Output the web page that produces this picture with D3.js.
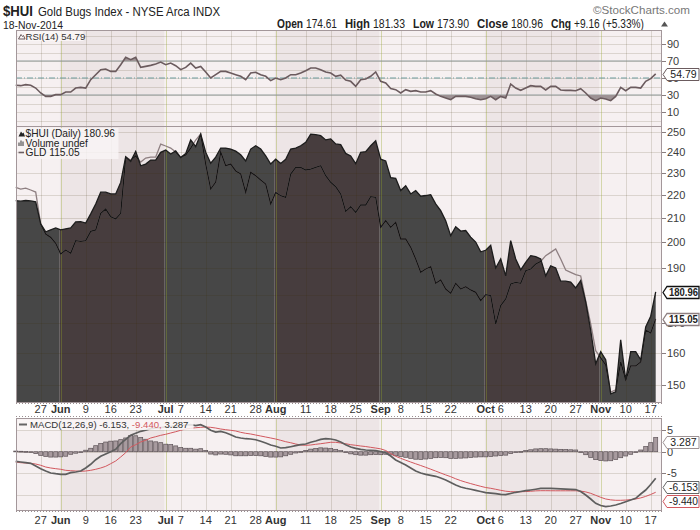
<!DOCTYPE html>
<html>
<head>
<meta charset="utf-8">
<script src="https://cdn.jsdelivr.net/npm/d3@7"></script>
<style>
  body { margin: 0; background: #fff; }
  svg text { font-family: "Liberation Sans", Arial, sans-serif; }
</style>
</head>
<body>
<div id="chart"></div>
<script>
// trading calendar
var firstDay = new Date(2014, 4, 19), lastDay = new Date(2014, 10, 18);
var holidays = ["2014-05-26", "2014-07-04", "2014-09-01"];

// $HUI daily close
var hui = [217.5, 217.3, 217.6, 217.4, 217.0, 207.6, 204.3, 205.1, 205.9, 205.1,
  205.5, 205.9, 208.4, 208.5, 207.9, 211.8, 216.1, 221.3, 221.3, 220.5,
  220.5, 225.7, 237.7, 235.5, 240.3, 233.4, 234.2, 236.1, 236.1, 239.8,
  240.9, 239.0, 240.5, 237.3, 239.2, 245.9, 242.6, 248.8, 239.9, 234.6,
  237.5, 241.9, 241.9, 241.4, 240.4, 238.6, 235.7, 241.4, 243.0, 241.4,
  238.1, 234.2, 236.5, 234.5, 236.5, 241.4, 241.9, 243.0, 244.7, 248.8,
  248.5, 248.0, 245.9, 246.4, 243.9, 243.6, 239.3, 238.1, 234.4, 239.8,
  240.1, 243.0, 245.5, 236.5, 235.7, 227.9, 227.6, 222.0, 224.2, 220.5,
  222.0, 219.5, 219.8, 220.2, 216.1, 213.2, 208.9, 202.7, 206.4, 204.6,
  204.8, 202.1, 200.1, 196.2, 196.8, 198.8, 189.9, 193.4, 186.9, 200.7,
  193.4, 189.2, 192.1, 194.7, 194.3, 193.4, 186.9, 190.7, 189.9, 184.9,
  184.9, 184.6, 182.4, 185.1, 177.3, 167.4, 156.5, 160.4, 157.8, 147.3,
  147.9, 164.3, 151.5, 160.4, 160.4, 157.8, 168.6, 172.3, 180.96];

// GLD overlay
var gld = [124.53, 124.41, 124.48, 124.34, 124.19, 121.89, 121.17, 120.93, 120.50, 119.73,
  120.02, 119.78, 120.69, 120.64, 120.69, 121.36, 121.46, 122.66, 122.97, 122.42,
  122.25, 122.66, 126.71, 126.50, 126.79, 126.35, 126.64, 126.71, 126.71, 127.65,
  127.51, 127.36, 127.07, 126.71, 126.86, 127.36, 127.94, 128.37, 126.21, 124.41,
  124.91, 127.07, 126.09, 126.21, 125.71, 125.49, 124.17, 125.61, 125.37, 125.06,
  124.77, 123.33, 124.17, 123.93, 123.81, 125.49, 125.97, 125.97, 125.78, 125.85,
  125.97, 126.09, 125.37, 124.89, 124.58, 124.05, 122.80, 123.14, 122.73, 123.26,
  123.26, 123.86, 123.81, 121.65, 122.13, 121.65, 122.01, 120.81, 120.81, 120.21,
  119.37, 118.41, 118.65, 118.82, 117.62, 117.86, 117.21, 116.90, 117.62, 117.21,
  117.38, 117.14, 116.97, 116.37, 116.80, 116.73, 114.69, 116.01, 116.49, 117.57,
  117.69, 117.62, 118.53, 118.65, 119.01, 119.20, 119.61, 119.85, 120.09, 119.37,
  118.58, 118.41, 118.24, 118.15, 116.37, 114.69, 112.77, 112.24, 111.74, 109.79,
  109.94, 111.95, 110.66, 111.67, 111.67, 111.95, 114.26, 114.04, 115.05];

// RSI(14)
var rsi = [41.4, 41.0, 42.2, 41.4, 38.2, 32.4, 28.4, 28.4, 30.4, 30.4,
  33.5, 33.5, 38.2, 39.0, 38.2, 48.0, 53.9, 59.8, 60.6, 57.8,
  57.8, 65.7, 74.3, 71.6, 74.3, 62.5, 63.7, 64.9, 66.5, 68.8,
  65.7, 67.6, 64.5, 59.8, 62.5, 67.6, 61.8, 63.7, 57.1, 50.0,
  53.9, 57.8, 57.8, 55.9, 53.9, 52.0, 48.0, 55.9, 56.7, 53.9,
  52.0, 46.9, 50.0, 48.0, 50.0, 53.9, 53.9, 55.9, 58.6, 61.8,
  61.8, 59.8, 57.1, 55.9, 52.0, 53.3, 47.5, 46.1, 40.2, 48.0,
  48.8, 52.0, 57.1, 46.1, 44.1, 37.5, 36.3, 32.4, 36.3, 34.3,
  35.1, 33.5, 33.5, 35.1, 31.2, 28.4, 26.5, 24.5, 28.4, 28.4,
  28.4, 27.3, 25.7, 24.5, 25.7, 28.4, 24.5, 28.4, 26.5, 42.9,
  38.2, 35.5, 38.2, 41.0, 40.2, 40.2, 35.9, 40.2, 40.2, 35.9,
  35.5, 35.5, 35.1, 37.5, 32.4, 26.5, 23.3, 26.5, 25.3, 23.3,
  28.4, 39.0, 35.1, 39.0, 39.0, 38.2, 46.1, 49.2, 54.79];

// MACD(12,26,9)
var macd = [-2.23, -2.40, -2.56, -2.70, -3.33, -3.95, -4.49, -4.95, -5.12, -5.26,
  -5.26, -4.88, -4.72, -4.49, -3.79, -2.93, -1.86, -1.07, -0.53, 0.00,
  0.56, 1.86, 2.88, 3.81, 4.28, 4.74, 4.98, 5.35, 5.51, 5.63,
  5.74, 5.86, 5.98, 6.09, 6.21, 6.28, 6.09, 6.28, 5.74, 4.98,
  4.58, 4.74, 4.42, 3.95, 3.42, 3.19, 3.02, 2.95, 2.79, 2.42,
  2.02, 1.56, 1.26, 0.86, 0.93, 1.16, 1.40, 1.63, 1.79, 2.19,
  2.49, 2.88, 3.02, 2.95, 2.72, 2.26, 1.63, 1.09, 0.79, 0.56,
  0.40, 0.33, 0.23, 0.00, -0.23, -1.00, -1.93, -2.51, -3.09, -3.79,
  -4.49, -4.95, -5.26, -5.49, -5.72, -6.12, -6.58, -7.16, -7.74, -8.21,
  -8.51, -8.74, -8.98, -9.26, -9.53, -9.65, -9.77, -9.91, -10.00, -9.72,
  -9.44, -9.26, -9.07, -8.91, -8.74, -8.55, -8.50, -8.55, -8.60, -8.65,
  -8.70, -8.75, -8.80, -9.25, -10.07, -11.00, -12.00, -12.51, -12.79, -12.63,
  -12.40, -12.05, -11.63, -11.23, -10.84, -9.84, -8.91, -7.63, -6.153];

var signal = [-2.40, -2.56, -2.63, -2.70, -2.86, -3.16, -3.56, -3.79, -3.95, -4.09,
  -4.33, -4.42, -4.49, -4.56, -4.49, -4.33, -4.09, -3.79, -3.40, -2.79,
  -2.16, -1.23, -0.23, 1.09, 1.63, 2.26, 2.65, 3.19, 3.49, 3.81,
  4.05, 4.35, 4.65, 4.98, 5.28, 5.44, 5.58, 5.67, 5.74, 5.67,
  5.51, 5.28, 5.12, 4.98, 4.81, 4.51, 4.28, 4.12, 3.88, 3.65,
  3.42, 3.19, 2.95, 2.65, 2.33, 2.09, 1.79, 1.56, 1.49, 1.56,
  1.72, 1.86, 2.02, 2.19, 2.19, 2.02, 1.86, 1.63, 1.49, 1.33,
  1.20, 1.02, 0.85, 0.66, 0.28, -0.42, -1.07, -1.53, -1.98, -2.40,
  -2.81, -3.21, -3.63, -4.07, -4.51, -4.95, -5.40, -5.81, -6.30, -6.72,
  -7.09, -7.42, -7.74, -8.05, -8.33, -8.51, -8.74, -8.98, -9.19, -9.30,
  -9.33, -9.32, -9.27, -9.20, -9.11, -9.07, -9.07, -9.08, -9.09, -9.09,
  -9.09, -9.09, -9.09, -9.17, -9.35, -9.68, -10.14, -10.61, -11.00, -11.20,
  -11.30, -11.30, -11.25, -11.15, -11.00, -10.75, -10.40, -9.95, -9.440];

var hist = [0.15, 0.10, 0.05, -0.05, -0.45, -0.85, -1.10, -1.25, -1.25, -1.20,
  -1.05, -0.60, -0.35, -0.05, 0.35, 0.80, 1.40, 1.90, 2.25, 2.45,
  2.50, 2.80, 3.20, 3.80, 3.70, 3.30, 2.90, 2.50, 2.30, 2.10,
  1.75, 1.65, 1.35, 0.95, 0.80, 0.80, 0.60, 0.70, 0.30, -0.55,
  -0.75, -0.55, -0.60, -0.75, -0.95, -0.95, -0.95, -0.90, -0.90, -0.95,
  -1.10, -1.25, -1.25, -1.20, -0.95, -0.60, -0.30, 0.05, 0.30, 0.60,
  0.75, 0.90, 0.85, 0.75, 0.55, 0.25, -0.20, -0.50, -0.70, -0.80,
  -0.80, -0.70, -0.65, -0.70, -0.60, -0.75, -0.95, -1.10, -1.30, -1.55,
  -1.75, -1.80, -1.70, -1.55, -1.40, -1.35, -1.40, -1.55, -1.55, -1.50,
  -1.45, -1.35, -1.25, -1.20, -1.20, -1.10, -1.00, -0.90, -0.80, -0.45,
  -0.15, 0.05, 0.25, 0.45, 0.65, 0.70, 0.70, 0.65, 0.60, 0.55,
  0.50, 0.45, 0.40, -0.05, -0.70, -1.35, -1.85, -2.05, -2.15, -2.10,
  -1.80, -1.40, -1.00, -0.60, -0.20, 0.40, 1.20, 2.10, 3.287];

// x axis ticks
var tickDates = ["2014-05-27", "2014-06-02", "2014-06-09", "2014-06-16", "2014-06-23", "2014-07-01",
  "2014-07-07", "2014-07-14", "2014-07-21", "2014-07-28", "2014-08-01", "2014-08-11", "2014-08-18",
  "2014-08-25", "2014-09-02", "2014-09-08", "2014-09-15", "2014-09-22", "2014-10-01", "2014-10-06",
  "2014-10-13", "2014-10-20", "2014-10-27", "2014-11-03", "2014-11-10", "2014-11-17"];
var tickLabels = ["27", "Jun", "9", "16", "23", "Jul", "7", "14", "21", "28", "Aug", "11", "18",
  "25", "Sep", "8", "15", "22", "Oct", "6", "13", "20", "27", "Nov", "10", "17"];
var monthLabels = ["Jun", "Jul", "Aug", "Sep", "Oct", "Nov"];
var shadedMonths = ["2014-06", "2014-08", "2014-10"];

var huiTicks = [150, 160, 170, 180, 190, 200, 210, 220, 230, 240, 250];
var huiLabels = [150, 160, 170, 190, 200, 210, 220, 230, 240, 250]; // 180 sits under the last-value tag
var rsiTicks = [10, 30, 50, 70, 90];
var rsiGrid = [0, 10, 20, 30, 40, 50, 60, 70, 80, 90, 100];
var macdTicks = [5, 0, -5];
var macdGrid = [5, 0, -5, -10];

var fmt = d3.timeFormat("%Y-%m-%d");
var days = d3.timeDay.range(firstDay, d3.timeDay.offset(lastDay, 1))
  .filter(function (d) { return d.getDay() !== 0 && d.getDay() !== 6 && holidays.indexOf(fmt(d)) < 0; })
  .map(fmt);

var L = 16, R = 662;
var rsiP = { top: 30, bottom: 126 }, mainP = { top: 126, bottom: 402 }, macdP = { top: 418, bottom: 510 };

var x = d3.scalePoint().domain(days).range([15.7, 655.7]);
var yH = d3.scaleLog().domain([144.9, 252.9]).range([mainP.bottom, mainP.top]);
var yG = d3.scaleLinear().domain([109.07, 128.95]).range([mainP.bottom, mainP.top]);
var yR = d3.scaleLinear().domain([-6.47, 106.5]).range([rsiP.bottom, rsiP.top]);
var yM = d3.scaleLinear().domain([-13.56, 7.84]).range([macdP.bottom, macdP.top]);

var svg = d3.select("#chart").append("svg").attr("width", 700).attr("height", 530);
var defs = svg.append("defs");
var narrow = "'Liberation Sans', Arial, sans-serif";
var tahoma = "'DejaVu Sans', Verdana, sans-serif";

// month bands (first trading day of each month)
var months = [];
days.forEach(function (d, i) {
  var m = d.slice(0, 7);
  if (!months.length || months[months.length - 1].m !== m) months.push({ m: m, i: i });
});
months.forEach(function (mo, k) {
  mo.x0 = k === 0 ? L : x(days[mo.i]) - 1;
  mo.x1 = k === months.length - 1 ? R : x(days[months[k + 1].i]) - 1;
  mo.shaded = shadedMonths.indexOf(mo.m) >= 0;
});

function panelBack(p) {
  svg.append("g").selectAll("rect").data(months).enter().append("rect")
    .attr("x", function (d) { return d.x0; })
    .attr("width", function (d) { return d.x1 - d.x0; })
    .attr("y", p.top).attr("height", p.bottom - p.top)
    .attr("fill", function (d) { return d.shaded ? "#ede5e6" : "#f6f0f1"; });
}

function panelGrid(p, yVals, yScale) {
  var g = svg.append("g");
  g.selectAll("line.h").data(yVals).enter().append("line")
    .attr("x1", L).attr("x2", R)
    .attr("y1", function (d) { return Math.round(yScale(d)) + 0.5; })
    .attr("y2", function (d) { return Math.round(yScale(d)) + 0.5; })
    .attr("stroke", "rgba(60,45,0,0.14)");
  g.selectAll("line.v").data(tickDates).enter().append("line")
    .attr("x1", function (d) { return Math.round(x(d)) + 0.5; })
    .attr("x2", function (d) { return Math.round(x(d)) + 0.5; })
    .attr("y1", p.top).attr("y2", p.bottom)
    .attr("stroke", function (d, i) {
      return monthLabels.indexOf(tickLabels[i]) >= 0 ? "rgba(150,165,40,0.35)" : "rgba(60,45,0,0.14)";
    });
}

function panelFrame(p) {
  svg.append("rect").attr("x", L + 0.5).attr("y", p.top + 0.5)
    .attr("width", R - L - 1).attr("height", p.bottom - p.top)
    .attr("fill", "none").attr("stroke", "#a3979a");
}

function rightLabels(vals, yScale) {
  var g = svg.append("g");
  vals.forEach(function (v) {
    var yy = Math.round(yScale(v)) + 0.5;
    g.append("line").attr("x1", R).attr("x2", R + 4).attr("y1", yy).attr("y2", yy).attr("stroke", "#8a7e80");
    g.append("text").attr("x", R + 5).attr("y", yy).attr("dy", "0.36em")
      .attr("font-size", "11px").attr("fill", "#3c3c3c").text(v);
  });
}

function valueBox(yy, label, stroke, bold, color) {
  var g = svg.append("g");
  var h = 12, x0 = R + 1, x1 = R + 5, x2 = 699;
  g.append("path")
    .attr("d", "M" + x0 + "," + yy + "L" + x1 + "," + (yy - h / 2) + "L" + x2 + "," + (yy - h / 2) +
      "L" + x2 + "," + (yy + h / 2) + "L" + x1 + "," + (yy + h / 2) + "Z")
    .attr("fill", "#fff").attr("stroke", stroke).attr("stroke-width", bold ? 1.3 : 1);
  var t = g.append("text").attr("x", (x1 + x2) / 2 + 0.5).attr("y", yy).attr("dy", "0.36em")
    .attr("text-anchor", "middle").attr("font-size", bold ? "10px" : "10.5px")
    .attr("font-weight", bold ? "bold" : "normal").attr("fill", color || "#222").text(label);
  if (t.node().getComputedTextLength() > x2 - x1 - 3) {
    t.attr("textLength", x2 - x1 - 3).attr("lengthAdjust", "spacingAndGlyphs");
  }
}

function timeLabels(yy) {
  svg.append("g").selectAll("text").data(tickDates).enter().append("text")
    .attr("x", function (d) { return x(d); })
    .attr("y", yy).attr("text-anchor", "middle").attr("font-size", "11px").attr("fill", "#333")
    .attr("font-weight", function (d, i) { return monthLabels.indexOf(tickLabels[i]) >= 0 ? "bold" : "normal"; })
    .text(function (d, i) { return tickLabels[i]; });
}

function dottedRow(yy) {
  svg.append("line").attr("x1", L).attr("x2", R).attr("y1", yy).attr("y2", yy)
    .attr("stroke", "#9a8e90").attr("stroke-dasharray", "1,2");
}

// squeeze a header text to the width it has in the reference
function headText(xx, yy, size, width, txt, opts) {
  opts = opts || {};
  return svg.append("text").attr("x", xx).attr("y", yy).attr("font-size", size + "px")
    .style("font-family", narrow)
    .attr("font-weight", opts.bold ? "bold" : "normal")
    .attr("fill", opts.color || "#222")
    .attr("text-anchor", opts.anchor || "start")
    .attr("textLength", width).attr("lengthAdjust", "spacingAndGlyphs")
    .text(txt);
}

// ---------- header ----------
headText(3, 16, 15.5, 30, "$HUI", { bold: true });
headText(38, 15.5, 12.5, 182, "Gold Bugs Index - NYSE Arca  INDX");
headText(690, 14, 11.5, 97, "\u00a9StockCharts.com", { anchor: "end", color: "#777" });
headText(3, 28.5, 11.5, 60, "18-Nov-2014");

var quoteParts = [["Open", true, 26], ["174.61", false, 31], ["High", true, 25], ["181.33", false, 32],
  ["Low", true, 21], ["173.90", false, 32], ["Close", true, 31], ["180.96", false, 32],
  ["Chg", true, 20], ["+9.16 (+5.33%)", false, 70]];
var qx = 277;
quoteParts.forEach(function (p) {
  headText(qx, 28, 12, p[2], p[0], { bold: p[1] });
  qx += p[2] + (p[1] ? 3 : 8);
});
svg.append("path").attr("d", "M661,26.5L664.5,21.5L668,26.5Z").attr("fill", "#555");

// ---------- RSI panel ----------
panelBack(rsiP);
panelGrid(rsiP, rsiGrid, yR);
svg.append("line").attr("x1", L).attr("x2", R).attr("y1", yR(70)).attr("y2", yR(70)).attr("stroke", "#8f9a9a").attr("stroke-width", 1.2);
svg.append("line").attr("x1", L).attr("x2", R).attr("y1", yR(30)).attr("y2", yR(30)).attr("stroke", "#8f9a9a").attr("stroke-width", 1.2);
svg.append("line").attr("x1", L).attr("x2", R).attr("y1", yR(50)).attr("y2", yR(50))
  .attr("stroke", "#6f9c9e").attr("stroke-dasharray", "6,2,1,2");

defs.append("clipPath").attr("id", "above70").append("rect")
  .attr("x", L).attr("y", rsiP.top).attr("width", R - L).attr("height", yR(70) - rsiP.top);
defs.append("clipPath").attr("id", "below30").append("rect")
  .attr("x", L).attr("y", yR(30)).attr("width", R - L).attr("height", rsiP.bottom - yR(30));

var rsiArea70 = d3.area().x(function (d, i) { return x(days[i]); }).y0(yR(70)).y1(function (d) { return yR(d); });
var rsiArea30 = d3.area().x(function (d, i) { return x(days[i]); }).y0(yR(30)).y1(function (d) { return yR(d); });
svg.append("path").datum(rsi).attr("d", rsiArea70).attr("fill", "#9d9294").attr("clip-path", "url(#above70)");
svg.append("path").datum(rsi).attr("d", rsiArea30).attr("fill", "#9d9294").attr("clip-path", "url(#below30)");
svg.append("path").datum(rsi)
  .attr("d", d3.line().x(function (d, i) { return x(days[i]); }).y(function (d) { return yR(d); }))
  .attr("fill", "none").attr("stroke", "#6b5b5e").attr("stroke-width", 1.6);
panelFrame(rsiP);

// ---------- price panel ----------
panelBack(mainP);
var huiArea = d3.area().x(function (d, i) { return x(days[i]); }).y0(mainP.bottom).y1(function (d) { return yH(d); });
var huiLine = d3.line().x(function (d, i) { return x(days[i]); }).y(function (d) { return yH(d); });
var gldLine = d3.line().x(function (d, i) { return x(days[i]); }).y(function (d) { return yG(d); });

defs.append("clipPath").attr("id", "huiClip").append("path").datum(hui).attr("d", huiArea);
svg.append("g").attr("clip-path", "url(#huiClip)").selectAll("rect").data(months).enter().append("rect")
  .attr("x", function (d) { return d.x0; })
  .attr("width", function (d) { return d.x1 - d.x0; })
  .attr("y", mainP.top).attr("height", mainP.bottom - mainP.top)
  .attr("fill", function (d) { return d.shaded ? "#473d3e" : "#474747"; });
panelGrid(mainP, huiTicks, yH);

svg.append("path").datum(gld).attr("d", gldLine).attr("fill", "none").attr("stroke", "#8e7f81").attr("stroke-width", 1.3);
svg.append("path").datum(gld).attr("d", gldLine).attr("fill", "none").attr("stroke", "#151515").attr("stroke-width", 1.3)
  .attr("clip-path", "url(#huiClip)");
svg.append("path").datum(hui).attr("d", huiLine).attr("fill", "none").attr("stroke", "#1c1c1c").attr("stroke-width", 1.3);
panelFrame(mainP);

// price legend
var lg = svg.append("g").attr("font-size", "10.2px").style("font-family", tahoma);
lg.append("rect").attr("x", 17.5).attr("y", 128).attr("width", 101).attr("height", 31).attr("fill", "#f8f4f5").attr("opacity", 0.85);
lg.append("path").attr("d", "M18.5,136.5L21,131.5L22.5,133.5L23.5,132.5L25,136.5Z").attr("fill", "#222");
lg.append("text").attr("x", 25.5).attr("y", 137).attr("fill", "#222").text("$HUI (Daily) 180.96");
lg.append("path").attr("d", "M18.5,146V142.5H19.5V146ZM20.5,146V140.5H21.5V146ZM22.5,146V141.5H23.5V146Z").attr("fill", "#333");
lg.append("text").attr("x", 25.5).attr("y", 146.5).attr("fill", "#222").text("Volume undef");
lg.append("line").attr("x1", 18.5).attr("x2", 24).attr("y1", 152.5).attr("y2", 152.5).attr("stroke", "#6b5f61").attr("stroke-width", 1.6);
lg.append("text").attr("x", 25.5).attr("y", 156).attr("fill", "#222").text("GLD 115.05");

// RSI legend
var rl = svg.append("g").attr("font-size", "9.6px").style("font-family", tahoma);
rl.append("rect").attr("x", 17.5).attr("y", 31).attr("width", 66).attr("height", 10).attr("fill", "#faf7f7").attr("opacity", 0.85);
rl.append("path").attr("d", "M18.5,39L21,34.5L22.5,36.5L23.5,35.5L25,39Z").attr("fill", "none").attr("stroke", "#6b5b5e");
rl.append("text").attr("x", 25.5).attr("y", 39.5).attr("fill", "#333").text("RSI(14) 54.79");

// ---------- MACD panel ----------
panelBack(macdP);
panelGrid(macdP, macdGrid, yM);
svg.append("g").selectAll("rect").data(hist).enter().append("rect")
  .attr("x", function (d, i) { return x(days[i]) - 2; })
  .attr("width", 4)
  .attr("y", function (d) { return Math.min(yM(0), yM(d)); })
  .attr("height", function (d) { return Math.max(0.8, Math.abs(yM(d) - yM(0))); })
  .attr("fill", "#a89b9f").attr("stroke", "#5c5256").attr("stroke-width", 0.7);
var mLine = d3.line().x(function (d, i) { return x(days[i]); }).y(function (d) { return yM(d); });
svg.append("path").datum(signal).attr("d", mLine).attr("fill", "none").attr("stroke", "#d2585e").attr("stroke-width", 1);
svg.append("path").datum(macd).attr("d", mLine).attr("fill", "none").attr("stroke", "#5e5e5e").attr("stroke-width", 1.7);
panelFrame(macdP);

var mg = svg.append("g").attr("font-size", "9.6px").style("font-family", tahoma);
mg.append("rect").attr("x", 17.5).attr("y", 419.5).attr("width", 176).attr("height", 10.5)
  .attr("fill", "#faf7f7").attr("opacity", 0.85);
mg.append("line").attr("x1", 19).attr("x2", 27).attr("y1", 424.5).attr("y2", 424.5).attr("stroke", "#666").attr("stroke-width", 2);
var ml = mg.append("text").attr("x", 30).attr("y", 428).attr("fill", "#333");
ml.append("tspan").text("MACD(12,26,9) -6.153, ");
ml.append("tspan").attr("fill", "#d2585e").text("-9.440, ");
ml.append("tspan").text("3.287");

// ---------- axes ----------
dottedRow(403.5);
dottedRow(416.5);
dottedRow(511.5);
timeLabels(413);
timeLabels(524);

rightLabels(rsiTicks, yR);
rightLabels(huiLabels, yH);
rightLabels(macdTicks, yM);

valueBox(Math.round(yR(54.79)) + 0.5, "54.79", "#6b5b5e", false);
valueBox(Math.round(yH(180.96)) + 0.5, "180.96", "#111", true);
valueBox(Math.round(yG(115.05)) + 0.5, "115.05", "#8e7f81", true);
valueBox(442.5, "3.287", "#9d9294", false);
valueBox(487.5, "-6.153", "#666", false);
valueBox(501.5, "-9.440", "#d2585e", false);
</script>
</body>
</html>
